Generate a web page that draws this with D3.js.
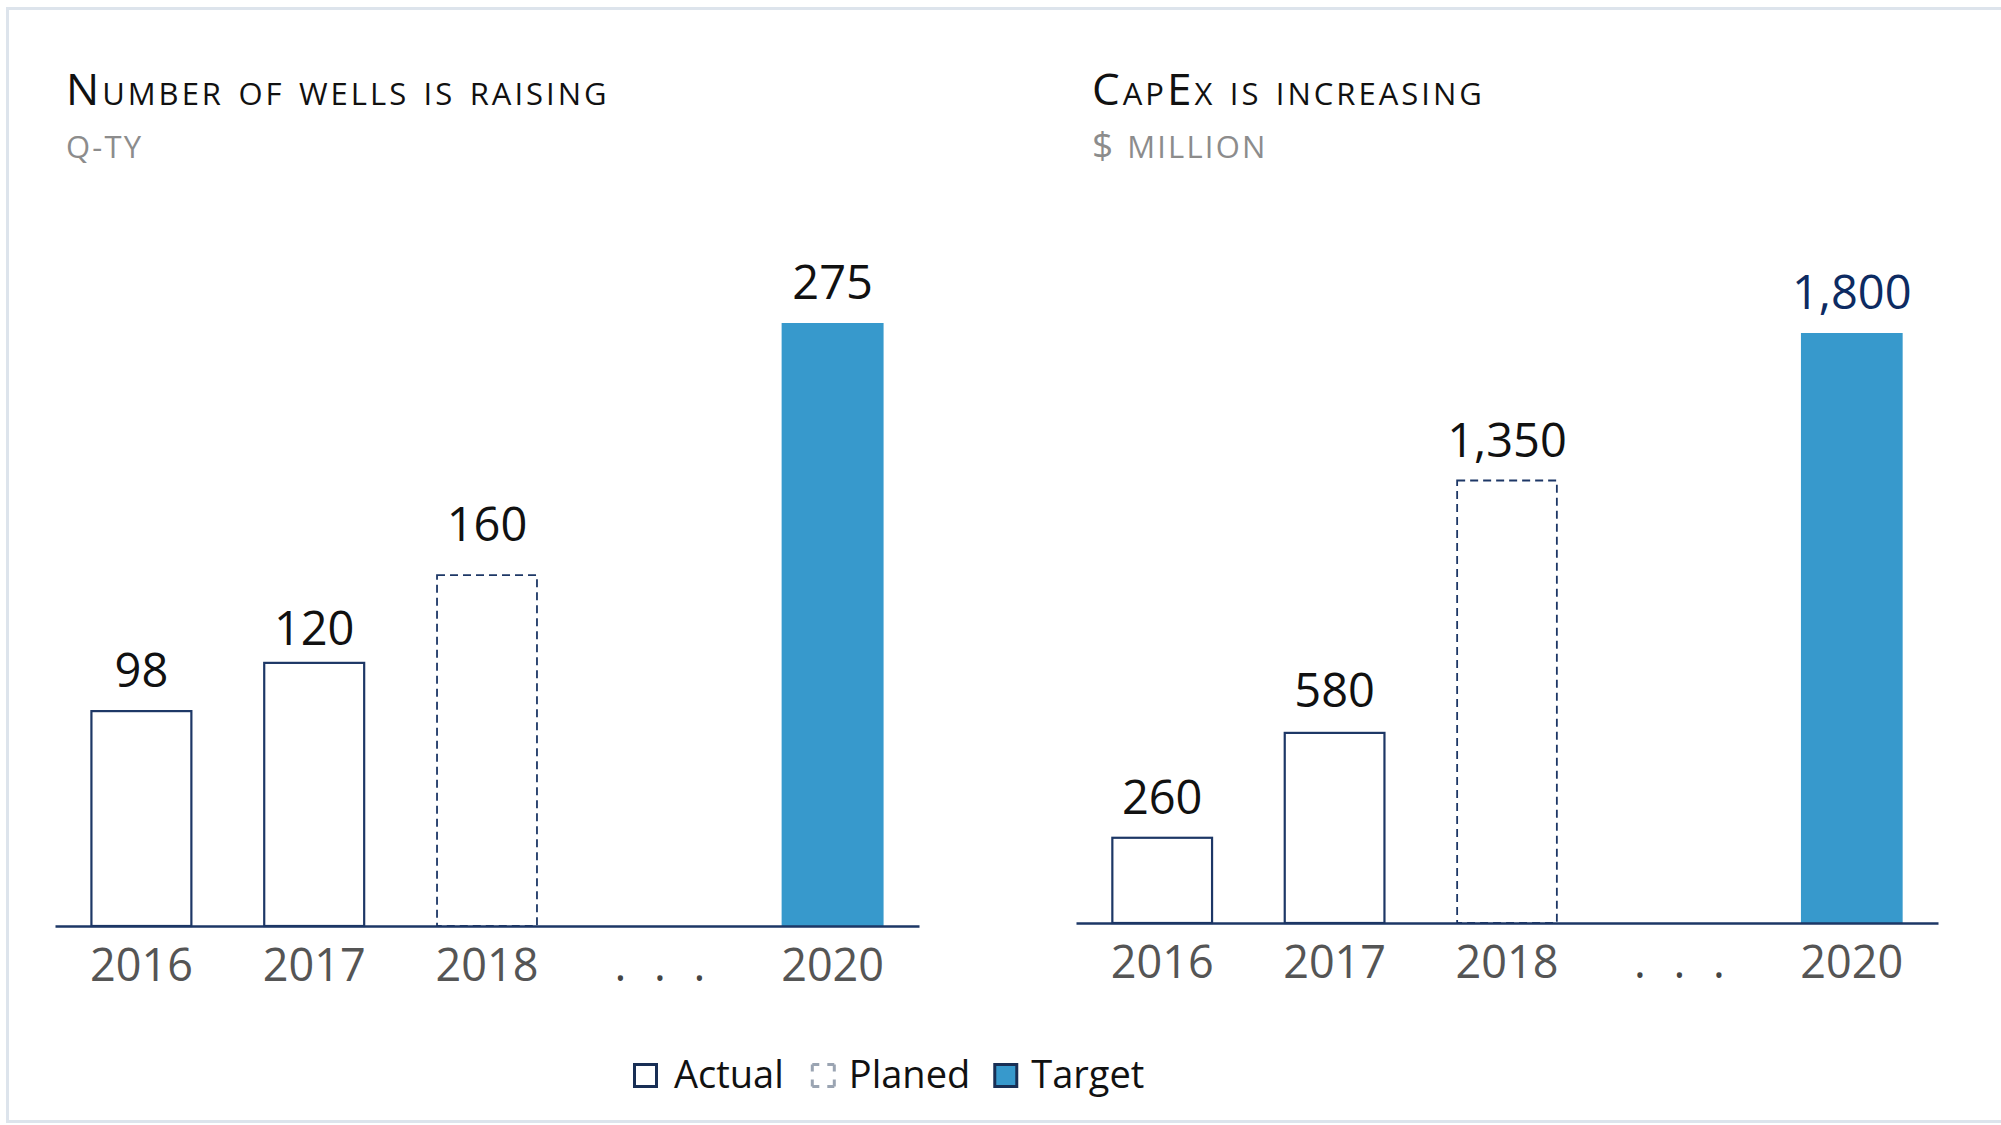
<!DOCTYPE html>
<html>
<head>
<meta charset="utf-8">
<script src="https://cdn.jsdelivr.net/npm/d3@7"></script>
<style>
  html, body { margin: 0; padding: 0; background: #fff; }
  svg text { font-family: "Open Sans", "Noto Sans", sans-serif; }
</style>
</head>
<body>
<div id="chart"></div>
<script>
// categories and values
const years = ["2016", "2017", "2018", "...", "2020"];
const wells = [98, 120, 160, null, 275];
const capex = [260, 580, 1350, null, 1800];
const barKinds = ["actual", "actual", "planned", null, "target"];
const legendLabels = ["Actual", "Planed", "Target"];
const legendKinds = ["actual", "planned", "target"];

const W = 2001, H = 1125;
const navy = "#1d3766";
const blue = "#3799cc";

const svg = d3.select("#chart").append("svg")
  .attr("width", W)
  .attr("height", H);

// light frame
svg.append("rect")
  .attr("x", 7.5).attr("y", 8.5)
  .attr("width", W + 20).attr("height", 1113)
  .attr("fill", "none")
  .attr("stroke", "#dde4ec")
  .attr("stroke-width", 3);

function drawPanel(opts) {
  const { values, title, unitSign, unit, left, right, base, top, maxVal, titleX, lastColor, nudge } = opts;
  const g = svg.append("g");

  // title + unit
  g.append("text")
    .attr("x", titleX).attr("y", 105)
    .attr("font-size", 44)
    .style("font-variant", "small-caps")
    .style("letter-spacing", "3px")
    .attr("fill", "#111")
    .text(title);
  const sub = g.append("text")
    .attr("x", titleX).attr("y", 158)
    .attr("font-size", 31)
    .style("letter-spacing", "2.2px")
    .attr("fill", "#8c8c8c");
  if (unitSign) sub.append("tspan").attr("font-size", 37).text(unitSign + " ");
  sub.append("tspan").text(unit);

  const x = d3.scaleBand()
    .domain(years)
    .range([left, right])
    .paddingInner(0.41)
    .paddingOuter(0.205);

  const y = d3.scaleLinear()
    .domain([0, maxVal])
    .range([base, top]);

  const data = years.map((d, i) => ({ year: d, value: values[i], kind: barKinds[i], i: i }))
    .filter(d => d.value != null);

  // bars
  g.selectAll(".bar")
    .data(data)
    .enter()
    .append("rect")
      .attr("class", "bar")
      .attr("x", d => d.kind === "target" ? x(d.year) : x(d.year) + 1)
      .attr("y", d => y(d.value))
      .attr("width", d => d.kind === "target" ? x.bandwidth() : x.bandwidth() - 2)
      .attr("height", d => base - y(d.value))
      .attr("fill", d => d.kind === "target" ? blue : "#fff")
      .attr("stroke", d => d.kind === "target" ? "none" : navy)
      .attr("stroke-width", d => d.kind === "planned" ? 1.8 : 2.2)
      .attr("stroke-dasharray", d => d.kind === "planned" ? "8,5" : null);

  // value labels
  g.selectAll(".val")
    .data(data)
    .enter()
    .append("text")
      .attr("class", "val")
      .attr("x", d => x(d.year) + x.bandwidth() / 2)
      .attr("y", d => y(d.value) - 24 + (nudge ? nudge[d.i] : 0))
      .attr("text-anchor", "middle")
      .attr("font-size", 47)
      .attr("fill", d => (d.kind === "target" && lastColor) ? lastColor : "#111")
      .text(d => d3.format(",")(d.value));

  // x axis
  const axis = g.append("g")
    .attr("transform", `translate(0, ${base})`)
    .call(d3.axisBottom(x).tickSize(0).tickSizeOuter(0).tickPadding(23));
  axis.select(".domain")
    .attr("stroke", navy)
    .attr("stroke-width", 2.5);
  axis.selectAll(".tick text")
    .attr("font-size", 45)
    .attr("fill", "#555")
    .attr("font-family", "'Open Sans', sans-serif");
  axis.selectAll(".tick text")
    .filter(d => d === "...")
    .text(". . .")
    .attr("fill", "#444")
    .style("letter-spacing", "8px")
    .attr("dx", 4);
}

drawPanel({
  values: wells,
  title: "Number of wells is raising",
  unit: "Q-TY",
  left: 55, right: 919,
  base: 926, top: 323, maxVal: 275,
  titleX: 66,
  nudge: [0, 6, -10, 0, 0]
});

drawPanel({
  values: capex,
  title: "CapEx is increasing",
  unitSign: "$",
  unit: "MILLION",
  left: 1076, right: 1938,
  base: 923, top: 333, maxVal: 1800,
  titleX: 1092,
  lastColor: "#0d2b62",
  nudge: [0, -2, 0, 0, 0]
});

// legend
const legend = svg.append("g").attr("transform", "translate(633, 1063)");
const legendGaps = [27, 23, 0];
let lx = 0;
legendLabels.forEach((label, i) => {
  const kind = legendKinds[i];
  const item = legend.append("g").attr("transform", `translate(${lx}, 0)`);
  item.append("rect")
    .attr("x", 1.5).attr("y", 1.5)
    .attr("width", 22).attr("height", 22)
    .attr("fill", kind === "target" ? blue : "#fff")
    .attr("stroke", kind === "planned" ? "#9aa4b2" : "#182f55")
    .attr("stroke-width", 3)
    .attr("stroke-dasharray", kind === "planned" ? "7 8 7 0" : null);
  const tx = i === 0 ? 41 : 38;
  const t = item.append("text")
    .attr("x", tx).attr("y", 25)
    .attr("font-size", 38)
    .attr("fill", "#111")
    .text(label);
  lx += tx + t.node().getComputedTextLength() + legendGaps[i];
});
</script>
</body>
</html>
